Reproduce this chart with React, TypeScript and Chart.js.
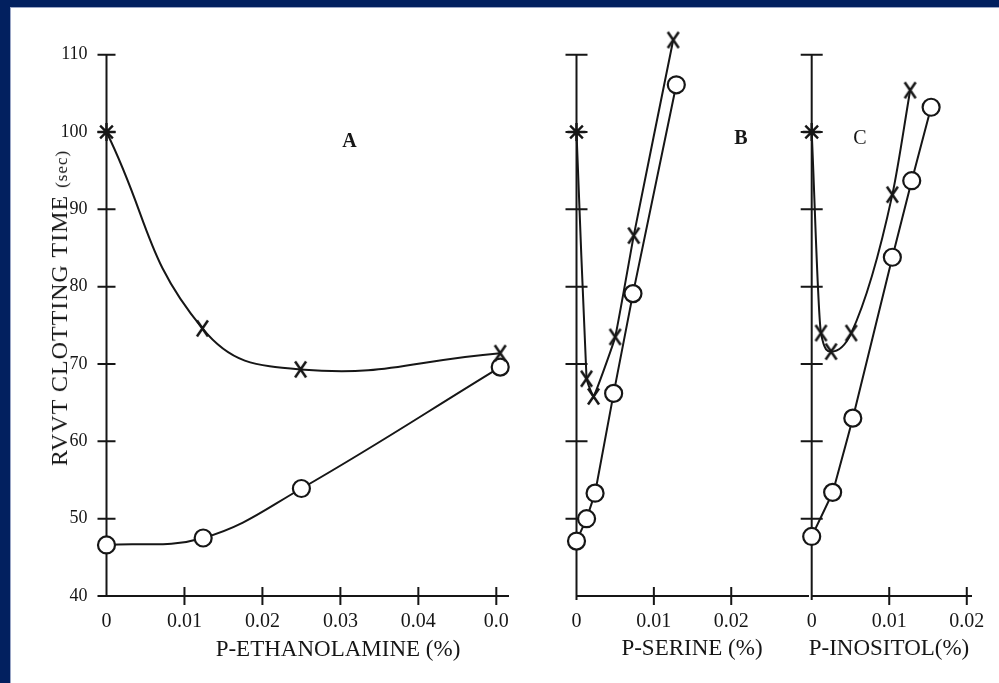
import React, { useEffect, useRef } from "react";
import { Chart, registerables } from "chart.js";

Chart.register(...registerables);

// ---------- data ----------
const yTickValues = [40, 50, 60, 70, 80, 90, 100, 110];
const yTickLabels = ["40", "50", "60", "70", "80", "90", "100", "110"];
const yAxisMin = 40;
const yAxisTop = 110;
const yScaleMax = 112.8;

// Panel A: P-ETHANOLAMINE
const aTickValues = [0, 0.01, 0.02, 0.03, 0.04, 0.05];
const aTickLabels = ["0", "0.01", "0.02", "0.03", "0.04", "0.0"];
const aCrossConc = [0, 0.0123, 0.0249, 0.0505];
const aCrossTime = [100, 74.6, 69.3, 71.4];
const aCircleConc = [0, 0.0124, 0.025, 0.0505];
const aCircleTime = [46.6, 47.5, 53.9, 69.6];

// Panel B: P-SERINE
const bTickValues = [0, 0.01, 0.02];
const bTickLabels = ["0", "0.01", "0.02"];
const bCrossConc = [0, 0.0013, 0.0022, 0.005, 0.0074, 0.0125];
const bCrossTime = [100, 68.1, 65.8, 73.5, 86.6, 111.9];
const bCircleConc = [0, 0.0013, 0.0024, 0.0048, 0.0073, 0.0129];
const bCircleTime = [47.1, 50.0, 53.3, 66.2, 79.1, 106.1];

// Panel C: P-INOSITOL
const cTickValues = [0, 0.01, 0.02];
const cTickLabels = ["0", "0.01", "0.02"];
const cCrossConc = [0, 0.0012, 0.0025, 0.0051, 0.0104, 0.0127];
const cCrossTime = [100, 74.0, 71.6, 74.0, 91.9, 105.4];
const cCircleConc = [0, 0.0027, 0.0053, 0.0104, 0.0129, 0.0154];
const cCircleTime = [47.7, 53.4, 63.0, 83.8, 93.7, 103.2];

// ---------- style ----------
const INK = "#161616";
const SERIF = "'Liberation Serif', 'DejaVu Serif', serif";
const CANVAS_H = 683;
const TOP_PAD = 33;
const X_SCALE_H = 87;

type PanelDef = {
  left: number;
  width: number;
  yWidth: number;
  padRight: number;
  xMax: number;
  tickValues: number[];
  tickLabels: string[];
  showY: boolean;
  crossConc: number[];
  crossTime: number[];
  circleConc: number[];
  circleTime: number[];
  crossTension: number;
  crossMode: "default" | "monotone";
  circleTension: number;
  yTickHalf: number;
  axisExtraBottom: number;
};

const panels: PanelDef[] = [
  {
    left: 0, width: 560, yWidth: 106.5, padRight: 52, xMax: 0.0515,
    tickValues: aTickValues, tickLabels: aTickLabels, showY: true,
    crossConc: aCrossConc, crossTime: aCrossTime,
    circleConc: aCircleConc, circleTime: aCircleTime,
    crossTension: 0.45, crossMode: "default", circleTension: 0.4, yTickHalf: 9,
    axisExtraBottom: 0,
  },
  {
    left: 520, width: 300, yWidth: 56.5, padRight: 9.5, xMax: 0.03,
    tickValues: bTickValues, tickLabels: bTickLabels, showY: false,
    crossConc: bCrossConc, crossTime: bCrossTime,
    circleConc: bCircleConc, circleTime: bCircleTime,
    crossTension: 0.1, crossMode: "default", circleTension: 0, yTickHalf: 11,
    axisExtraBottom: 4,
  },
  {
    left: 760, width: 239, yWidth: 51.7, padRight: 24.6, xMax: 0.0206,
    tickValues: cTickValues, tickLabels: cTickLabels, showY: false,
    crossConc: cCrossConc, crossTime: cCrossTime,
    circleConc: cCircleConc, circleTime: cCircleTime,
    crossTension: 0.4, crossMode: "monotone", circleTension: 0.05, yTickHalf: 11,
    axisExtraBottom: 4,
  },
];

function makeCrossMarker(): HTMLCanvasElement {
  const c = document.createElement("canvas");
  c.width = 15;
  c.height = 19;
  const g = c.getContext("2d")!;
  g.strokeStyle = INK;
  g.lineWidth = 2.5;
  g.beginPath();
  g.moveTo(2, 1.5);
  g.lineTo(13, 17.5);
  g.moveTo(13, 1.5);
  g.lineTo(2, 17.5);
  g.stroke();
  return c;
}

const crossTicksPlugin = {
  id: "crossTicks",
  beforeDatasetsDraw(chart: any, _args: any, opts: any) {
    const { ctx, chartArea } = chart;
    const xs = chart.scales.x;
    const ys = chart.scales.y;
    const ax = chartArea.left;
    ctx.save();
    ctx.strokeStyle = INK;
    ctx.lineWidth = 2;
    ctx.beginPath();
    // vertical axis line from 40 to 110
    ctx.moveTo(ax, ys.getPixelForValue(yAxisMin) + opts.extraBottom);
    ctx.lineTo(ax, ys.getPixelForValue(yAxisTop));
    ys.ticks.forEach((t: any) => {
      if (t.value === yAxisMin) return;
      const py = ys.getPixelForValue(t.value);
      ctx.moveTo(ax - opts.yHalf, py);
      ctx.lineTo(ax + opts.yHalf, py);
    });
    xs.ticks.forEach((t: any) => {
      if (t.value === 0) return;
      const px = xs.getPixelForValue(t.value);
      ctx.moveTo(px, chartArea.bottom - 9);
      ctx.lineTo(px, chartArea.bottom + 9);
    });
    if (opts.yHalf < 10) {
      const py = ys.getPixelForValue(yAxisMin);
      ctx.moveTo(ax - opts.yHalf, py);
      ctx.lineTo(ax, py);
    }
    ctx.stroke();
    ctx.restore();
  },
};

function buildChart(canvas: HTMLCanvasElement, p: PanelDef, crossImg: HTMLCanvasElement) {
  const crossData = p.crossConc.map((x, i) => ({ x, y: p.crossTime[i] }));
  const circleData = p.circleConc.map((x, i) => ({ x, y: p.circleTime[i] }));
  return new Chart(canvas, {
    type: "scatter",
    data: {
      datasets: [
        {
          label: "O",
          data: circleData,
          showLine: true,
          borderColor: INK,
          borderWidth: 2,
          tension: p.circleTension,
          pointStyle: "circle",
          pointRadius: 8.5,
          pointBorderWidth: 2.2,
          pointBorderColor: INK,
          pointBackgroundColor: "#ffffff",
          clip: false,
          order: 2,
        } as any,
        {
          label: "X",
          data: crossData,
          showLine: true,
          borderColor: INK,
          borderWidth: 2,
          tension: p.crossTension,
          cubicInterpolationMode: p.crossMode,
          pointStyle: crossData.map((_, i) => (i === 0 ? "star" : crossImg)),
          pointRadius: 9,
          pointBorderWidth: 2.4,
          pointBorderColor: INK,
          pointBackgroundColor: INK,
          clip: false,
          order: 1,
        } as any,
      ],
    },
    options: {
      responsive: false,
      animation: false,
      events: [],
      layout: { padding: { left: 0, top: TOP_PAD, right: p.padRight, bottom: 0 } },
      plugins: {
        legend: { display: false },
        tooltip: { enabled: false },
        crossTicks: { yHalf: p.yTickHalf, extraBottom: p.axisExtraBottom },
      } as any,
      scales: {
        x: {
          type: "linear",
          min: 0,
          max: p.xMax,
          grid: { display: false, drawTicks: false },
          border: { display: true, color: INK, width: 2 },
          afterBuildTicks: (s: any) => {
            s.ticks = p.tickValues.map((v) => ({ value: v }));
          },
          afterFit: (s: any) => {
            s.height = X_SCALE_H;
          },
          ticks: {
            padding: 14,
            color: INK,
            autoSkip: false,
            maxRotation: 0,
            font: { family: SERIF, size: 20 },
            callback: (_v: any, i: number) => p.tickLabels[i],
          },
        },
        y: {
          type: "linear",
          min: yAxisMin,
          max: yScaleMax,
          grid: { display: false, drawTicks: false },
          border: { display: false },
          afterBuildTicks: (s: any) => {
            s.ticks = yTickValues.map((v) => ({ value: v }));
          },
          afterFit: (s: any) => {
            s.width = p.yWidth;
          },
          ticks: {
            display: p.showY,
            padding: 19,
            color: INK,
            font: { family: SERIF, size: 18 },
            callback: (_v: any, i: number) => yTickLabels[i],
          },
        },
      },
    },
    plugins: [crossTicksPlugin],
  } as any);
}

const textBase: React.CSSProperties = {
  position: "absolute",
  fontFamily: SERIF,
  color: INK,
  whiteSpace: "nowrap",
  transform: "translate(-50%, -50%)",
  lineHeight: 1,
};

export default function App() {
  const refA = useRef<HTMLCanvasElement>(null);
  const refB = useRef<HTMLCanvasElement>(null);
  const refC = useRef<HTMLCanvasElement>(null);

  useEffect(() => {
    const crossImg = makeCrossMarker();
    const refs = [refA, refB, refC];
    const charts = panels.map((p, i) => buildChart(refs[i].current!, p, crossImg));
    return () => charts.forEach((c) => c.destroy());
  }, []);

  const refs = [refA, refB, refC];

  return (
    <div
      style={{
        position: "absolute",
        left: 0,
        top: 0,
        width: 999,
        height: 683,
        background: "#02205f",
        overflow: "hidden",
      }}
    >
      <div
        style={{
          position: "absolute",
          left: 10,
          top: 7,
          width: 989,
          height: 676,
          background: "#ffffff",
          borderTop: "1px solid #9aa6c6",
          borderLeft: "1px solid #9aa6c6",
          boxSizing: "border-box",
        }}
      />
      {panels.map((p, i) => (
        <canvas
          key={i}
          ref={refs[i]}
          width={p.width}
          height={CANVAS_H}
          style={{ position: "absolute", left: p.left, top: 0, width: p.width, height: CANVAS_H }}
        />
      ))}
      <div style={{ ...textBase, left: 59, top: 308, fontSize: 24, transform: "translate(-50%, -50%) rotate(-90deg)", letterSpacing: 1 }}>
        RVVT CLOTTING TIME <span style={{ fontSize: 17 }}>(sec)</span>
      </div>
      <div style={{ ...textBase, left: 338, top: 648, fontSize: 23 }}>P-ETHANOLAMINE (%)</div>
      <div style={{ ...textBase, left: 692, top: 647, fontSize: 23 }}>P-SERINE (%)</div>
      <div style={{ ...textBase, left: 889, top: 647, fontSize: 23 }}>P-INOSITOL(%)</div>
      <div style={{ ...textBase, left: 349.5, top: 139.5, fontSize: 20, fontWeight: 600 }}>A</div>
      <div style={{ ...textBase, left: 741, top: 137, fontSize: 20, fontWeight: 700 }}>B</div>
      <div style={{ ...textBase, left: 860, top: 137, fontSize: 20 }}>C</div>
    </div>
  );
}
